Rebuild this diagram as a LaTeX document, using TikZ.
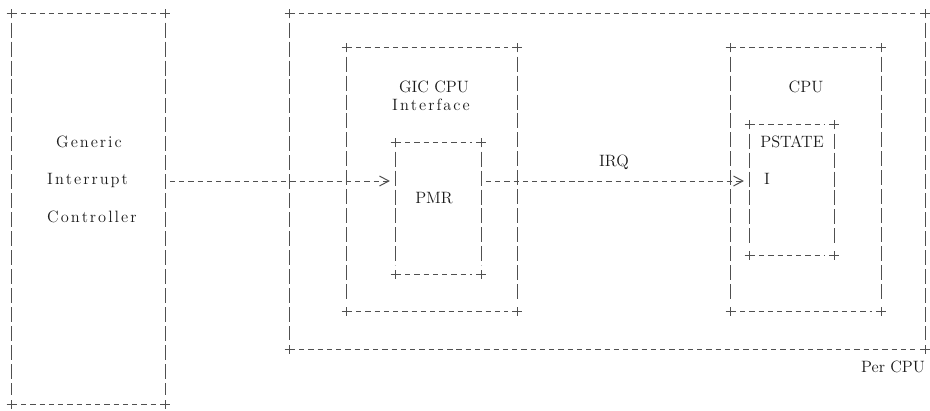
\documentclass[tikz,border=0pt]{standalone}
\usepackage{fontspec}
\usepackage{xcolor}
\usepackage{tikz}
\usetikzlibrary{arrows.meta,fit,calc}
\definecolor{asciiline}{HTML}{505050}
\definecolor{asciitext}{HTML}{1A1A1A}

\makeatletter
\newcommand\spread[1]{\@tfor\ch:=#1\do{\ch\kern1.7pt}\unkern}
\makeatother

\newcommand\asciiframe[1]{%
  \draw[hdash] ([xshift=8pt]#1.north west) -- ([xshift=-8pt]#1.north east)
               ([xshift=8pt]#1.south west) -- ([xshift=-8pt]#1.south east);
  \draw[vdash] ([yshift=-7.5pt]#1.north west) -- ([yshift=7.5pt]#1.south west)
               ([yshift=-7.5pt]#1.north east) -- ([yshift=7.5pt]#1.south east);
  \foreach \c in {north west,north east,south west,south east}
    \draw[corner] ([xshift=-4.3pt]#1.\c) -- ([xshift=4.3pt]#1.\c)
                  ([yshift=-4pt]#1.\c) -- ([yshift=4pt]#1.\c);
}

\begin{document}
\begin{tikzpicture}[
  x=0.03cm, y=-0.03cm,
  font=\fontsize{14}{17}\selectfont,
  frame/.style={inner sep=0pt,draw=none},
  hdash/.style={asciiline,line width=0.85pt,dash pattern=on 4.5pt off 3.4pt},
  vdash/.style={asciiline,line width=0.85pt,dash pattern=on 12.8pt off 3.4pt},
  corner/.style={asciiline,line width=0.85pt},
  txt/.style={inner sep=0pt,text=asciitext,anchor=base},
  spaced/.style={txt,anchor=base west},
  flow/.style={asciiline,line width=0.85pt,dash pattern=on 4.5pt off 3.4pt,
    -{Straight Barb[length=8pt,width=8.5pt]},shorten <=4pt,shorten >=5pt}
]
\useasboundingbox (0,0) rectangle (930,410);

\node[frame,fit={(12,14) (165,404)}] (gic) {};
\node[frame,fit={(290,14) (925,349)}] (percpu) {};
\node[frame,fit={(347,48) (517,311)}] (gicif) {};
\node[frame,fit={(396,143) (481,274)}] (pmr) {};
\node[frame,fit={(731,48) (881,311)}] (cpu) {};
\node[frame,fit={(750,125) (834,255)}] (pstate) {};
\foreach \b in {gic,percpu,gicif,pmr,cpu,pstate} \asciiframe{\b};

\node[spaced] (generic) at (56,147) {\spread{Generic}};
\node[spaced] (interrupt) at (47,184) {\spread{Interrupt}};
\node[spaced] (controller) at (47,222) {\spread{Controller}};
\node[txt] (gicname) at (434,92) {GIC CPU};
\node[spaced] (interface) at (392,110) {\spread{Interface}};
\node[txt] (pmrname) at (434,203) {PMR};
\node[txt] (irq) at (614,166) {IRQ};
\node[txt] (cpuname) at (806,92) {CPU};
\node[txt] (pstatename) at (792,147.5) {PSTATE};
\node[txt] (ibit) at (767,184) {I};
\node[txt] (percpuname) at (893,372) {Per CPU};

\coordinate (irqrow) at (0,181);
\draw[flow] (gic.east |- irqrow) -- (pmr.west |- irqrow);
\draw[flow] (pmr.east |- irqrow) -- (pstate.west |- irqrow);
\end{tikzpicture}
\end{document}
